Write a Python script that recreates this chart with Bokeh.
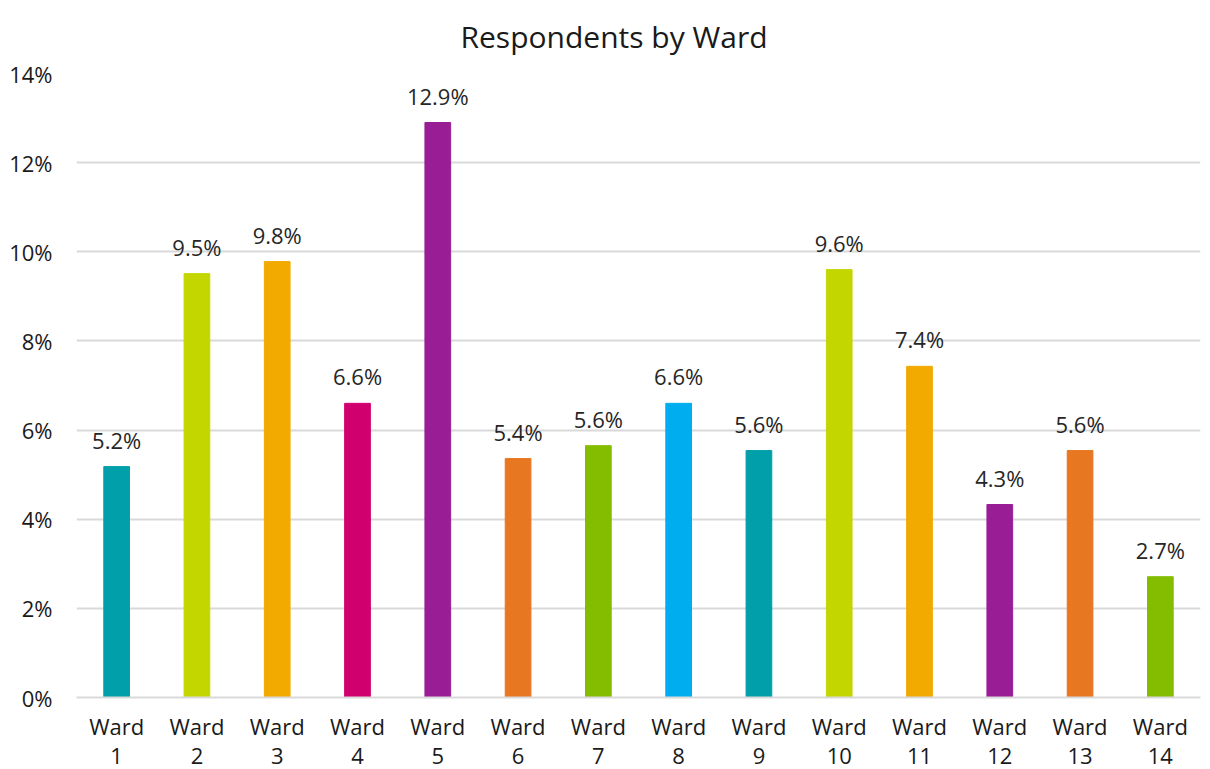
from bokeh.plotting import figure
from bokeh.models import ColumnDataSource, CustomJSTickFormatter, FixedTicker, Range1d, CategoricalAxis
from bokeh.core.properties import value
from bokeh.embed import file_html
from bokeh.resources import INLINE

wards = ["Ward 1", "Ward 2", "Ward 3", "Ward 4", "Ward 5", "Ward 6", "Ward 7",
         "Ward 8", "Ward 9", "Ward 10", "Ward 11", "Ward 12", "Ward 13", "Ward 14"]
pct = [5.18, 9.51, 9.78, 6.60, 12.90, 5.36, 5.65, 6.60, 5.54, 9.60, 7.43, 4.33, 5.54, 2.71]
labels = ["5.2%", "9.5%", "9.8%", "6.6%", "12.9%", "5.4%", "5.6%", "6.6%", "5.6%",
          "9.6%", "7.4%", "4.3%", "5.6%", "2.7%"]
colors = ["#009FAA", "#C4D600", "#F2A900", "#D0006F", "#991E96", "#E87722", "#84BD00",
          "#00AEEF", "#009FAA", "#C4D600", "#F2A900", "#991E96", "#E87722", "#84BD00"]
y_ticks = [0, 2, 4, 6, 8, 10, 12, 14]

FONT = "Open Sans"
TXT = "#1a1a1a"

src = ColumnDataSource(dict(x=wards, y=pct, lab=labels, c=colors))

p = figure(x_range=wards, y_range=Range1d(0, 14), width=1202, height=769,
           output_backend="svg", toolbar_location=None,
           min_border_left=76, min_border_right=2, min_border_top=72, min_border_bottom=72)
p.title.text = "Respondents by Ward"
p.title.align = "left"
p.title.vertical_align = "top"
p.title.text_font = FONT
p.title.text_font_size = "30px"
p.title.text_font_style = "normal"
p.title.text_color = TXT
p.title.offset = 384
p.title.standoff = 30

p.vbar(x="x", top="y", width=0.32, color="c", source=src)
p.text(x="x", y="y", text="lab", source=src, text_align="center", text_baseline="bottom",
       y_offset=-12, text_font=value(FONT), text_font_size="22px", text_color="#262626")

p.outline_line_color = None
p.xgrid.grid_line_color = None
p.ygrid.grid_line_color = "#D9D9D9"
p.ygrid.grid_line_width = 2
p.yaxis.ticker = FixedTicker(ticks=y_ticks)
p.yaxis.formatter = CustomJSTickFormatter(code="return tick + '%';")
p.yaxis.axis_line_color = None
p.yaxis.major_tick_line_color = None
p.yaxis.minor_tick_line_color = None
p.yaxis.major_label_standoff = 18

xa = p.xaxis[0]
xa.axis_line_color = "#D9D9D9"
xa.axis_line_width = 2
xa.major_tick_line_color = None
xa.major_label_standoff = 7
xa.formatter = CustomJSTickFormatter(code="return tick.split(' ')[0];")

xb = CategoricalAxis(axis_line_color=None, major_tick_line_color=None,
                     major_label_standoff=-2,
                     formatter=CustomJSTickFormatter(code="return tick.split(' ')[1];"))
p.add_layout(xb, "below")

for ax in (xa, xb, p.yaxis[0]):
    ax.major_label_text_font = FONT
    ax.major_label_text_font_size = "22px"
    ax.major_label_text_color = TXT

open("out.html", "w").write(file_html(p, INLINE))
